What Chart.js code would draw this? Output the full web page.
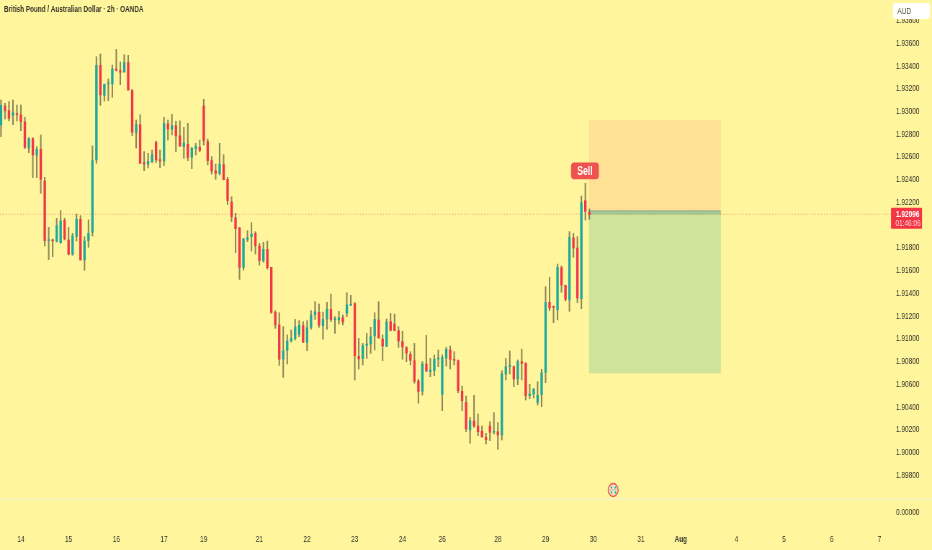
<!DOCTYPE html>
<html>
<head>
<meta charset="utf-8">
<title>GBPAUD 2h</title>
<script src="https://cdn.jsdelivr.net/npm/chart.js@4"></script>
<style>
  html, body { margin: 0; padding: 0; background: #fff59d; overflow: hidden; width: 932px; height: 550px; }
  /* o print original e espremido na horizontal, o texto tambem */
  canvas { display: block; transform: scaleX(0.72025); transform-origin: 0 0; }
</style>
</head>
<body>
<canvas id="grafico" width="1294" height="550"></canvas>
<script>
const opens = [
  1.92881,1.93048,1.93007,1.92966,1.92978,1.92969,1.92908,1.92679,1.92761,1.92615,
  1.92667,1.92389,1.91864,1.91870,1.91858,1.91846,1.92043,1.91870,1.91744,1.91902,
  1.92052,1.91694,1.91864,1.91937,1.92574,1.93406,1.93142,1.93242,1.93242,1.93374,
  1.93359,1.93348,1.93430,1.93183,1.92814,1.92884,1.92550,1.92535,1.92559,1.92729,
  1.92576,1.92565,1.92890,1.92843,1.92875,1.92785,1.92691,1.92711,1.92597,1.92673,
  1.92685,1.93048,1.92735,1.92568,1.92477,1.92453,1.92532,1.92403,1.92204,1.92066,
  1.91975,1.91629,1.91875,1.91899,1.91928,1.91816,1.91687,1.91787,1.91629,1.91233,
  1.91122,1.90823,1.90899,1.90981,1.91004,1.91040,1.91116,1.90969,1.91101,1.91215,
  1.91233,1.91116,1.91174,1.91259,1.91169,1.91166,1.91186,1.91224,1.91295,1.91309,
  1.90846,1.90828,1.90943,1.90954,1.91025,1.91166,1.90998,1.90934,1.91151,1.91130,
  1.91072,1.90975,1.90922,1.90864,1.90808,1.90629,1.90538,1.90779,1.90711,1.90720,
  1.90823,1.90512,1.90831,1.90902,1.90820,1.90808,1.90538,1.90441,1.90198,1.90277,
  1.90233,1.90186,1.90133,1.90233,1.90178,1.90183,1.90154,1.90691,1.90758,1.90755,
  1.90647,1.90799,1.90784,1.90500,1.90515,1.90441,1.90509,1.90705,1.91321,1.91283,
  1.91254,1.91626,1.91470,1.91342,1.91887,1.91799,1.91353,1.92215,1.92113
]
const closes = [
  1.93054,1.93004,1.92940,1.92990,1.92972,1.92911,1.92685,1.92761,1.92617,1.92667,
  1.92403,1.91864,1.91870,1.91861,1.91996,1.92037,1.91879,1.91744,1.91905,1.92052,
  1.91694,1.91861,1.91928,1.92568,1.93406,1.93145,1.93239,1.93248,1.93374,1.93362,
  1.93345,1.93430,1.93189,1.92817,1.92884,1.92544,1.92538,1.92562,1.92620,1.92573,
  1.92565,1.92896,1.92846,1.92875,1.92785,1.92697,1.92723,1.92597,1.92676,1.92694,
  1.92658,1.92744,1.92568,1.92477,1.92456,1.92538,1.92400,1.92216,1.92075,1.91969,
  1.91629,1.91878,1.91890,1.91922,1.91819,1.91690,1.91787,1.91626,1.91233,1.91122,
  1.90820,1.90893,1.90981,1.91004,1.91104,1.91119,1.90972,1.91098,1.91210,1.91239,
  1.91122,1.91171,1.91259,1.91169,1.91177,1.91186,1.91148,1.91298,1.91300,1.90852,
  1.90823,1.90940,1.90954,1.91019,1.91171,1.91010,1.90937,1.91148,1.91075,1.91075,
  1.90981,1.90928,1.90875,1.90811,1.90626,1.90538,1.90779,1.90717,1.90726,1.90820,
  1.90828,1.90837,1.90907,1.90820,1.90811,1.90544,1.90456,1.90207,1.90280,1.90233,
  1.90183,1.90139,1.90113,1.90178,1.90183,1.90154,1.90691,1.90755,1.90764,1.90647,
  1.90799,1.90784,1.90500,1.90515,1.90556,1.90503,1.90702,1.91321,1.91271,1.91277,
  1.91629,1.91473,1.91347,1.91893,1.91799,1.91359,1.92198,1.92121,1.92095
]
const highs = [
  1.93101,1.93072,1.93087,1.93101,1.93057,1.93057,1.92949,1.92770,1.92770,1.92691,
  1.92793,1.92421,1.91981,1.91879,1.92060,1.92128,1.92060,1.91981,1.91928,1.92098,
  1.92084,1.91899,1.92046,1.92697,1.93482,1.93506,1.93242,1.93286,1.93409,1.93547,
  1.93435,1.93500,1.93494,1.93195,1.92925,1.92972,1.92647,1.92632,1.92661,1.92741,
  1.92661,1.92949,1.92925,1.92975,1.92914,1.92917,1.92861,1.92896,1.92685,1.92720,
  1.92749,1.93107,1.92758,1.92603,1.92538,1.92720,1.92620,1.92421,1.92250,1.92104,
  1.91981,1.91884,1.91951,1.92022,1.91943,1.91840,1.91849,1.91860,1.91629,1.91248,
  1.91230,1.91107,1.91034,1.91078,1.91171,1.91160,1.91151,1.91160,1.91248,1.91327,
  1.91306,1.91236,1.91321,1.91394,1.91195,1.91242,1.91210,1.91406,1.91383,1.91318,
  1.91004,1.90960,1.91048,1.91101,1.91230,1.91327,1.91034,1.91174,1.91224,1.91218,
  1.91107,1.91066,1.90931,1.90887,1.90960,1.90644,1.90799,1.91031,1.90828,1.90858,
  1.90902,1.90858,1.90925,1.90937,1.90887,1.90814,1.90585,1.90497,1.90309,1.90503,
  1.90339,1.90233,1.90169,1.90271,1.90351,1.90263,1.90720,1.90828,1.90893,1.90761,
  1.90814,1.90910,1.90790,1.90600,1.90565,1.90623,1.90732,1.91459,1.91541,1.91289,
  1.91658,1.91641,1.91473,1.91943,1.91928,1.91899,1.92256,1.92368,1.92142
]
const lows = [
  1.92779,1.92934,1.92917,1.92884,1.92917,1.92831,1.92673,1.92638,1.92418,1.92418,
  1.92280,1.91817,1.91697,1.91723,1.91852,1.91841,1.91870,1.91738,1.91735,1.91861,
  1.91694,1.91603,1.91805,1.91905,1.92544,1.93054,1.93092,1.93095,1.93125,1.93356,
  1.93236,1.93345,1.93189,1.92788,1.92679,1.92544,1.92480,1.92503,1.92550,1.92550,
  1.92506,1.92524,1.92749,1.92793,1.92647,1.92691,1.92588,1.92568,1.92497,1.92617,
  1.92647,1.92705,1.92530,1.92450,1.92403,1.92442,1.92398,1.92181,1.92031,1.91758,
  1.91523,1.91605,1.91855,1.91773,1.91746,1.91649,1.91673,1.91614,1.91224,1.91092,
  1.90767,1.90661,1.90779,1.90972,1.90990,1.91019,1.90966,1.90896,1.91084,1.91171,
  1.91101,1.90996,1.91084,1.91151,1.91048,1.91130,1.91122,1.91195,1.91292,1.90638,
  1.90735,1.90770,1.90828,1.90872,1.90902,1.91004,1.90808,1.90931,1.91069,1.91069,
  1.90925,1.90820,1.90799,1.90770,1.90609,1.90433,1.90506,1.90711,1.90667,1.90676,
  1.90755,1.90368,1.90761,1.90735,1.90770,1.90526,1.90368,1.90183,1.90081,1.90221,
  1.90148,1.90133,1.90075,1.90104,1.90163,1.90028,1.90110,1.90638,1.90691,1.90579,
  1.90597,1.90638,1.90462,1.90474,1.90480,1.90418,1.90403,1.90614,1.91248,1.91142,
  1.91166,1.91409,1.91333,1.91242,1.91717,1.91318,1.91265,1.92045,1.92051
]

const dayTicks = [5,17,29,41,51,65,77,89,101,111,125,137,149,161,171,185,197,209,221]
const dayLabels = ['14','15','16','17','19','21','22','23','24','26','28','29','30','31','Aug','4','5','6','7']
const priceTicks = [1.938,1.936,1.934,1.932,1.93,1.928,1.926,1.924,1.922,1.92,1.918,1.916,1.914,1.912,1.91,1.908,1.906,1.904,1.902,1.9,1.898]

const lastPrice = 1.92096
const entryPrice = 1.92125
const stopPrice = 1.92921
const targetPrice = 1.907
const posStart = 148
const posEnd = 181

const verde = '#1ea89c'
const vermelho = '#f23645'
const corTexto = '#33332a'
const fonte = '"Liberation Sans", sans-serif'
const aperto = 932 / 1294 // mesmo valor do scaleX no css

const indices = opens.map((_, i) => i)
const posMeio = (posStart + posEnd) / 2
const posLargura = 131.5 / aperto

function pill(ctx, x, y, w, h, r, cor) {
    ctx.fillStyle = cor
    ctx.beginPath()
    ctx.roundRect(x / aperto, y, w / aperto, h, r)
    ctx.fill()
}

// textos e etiquetas que ficam por cima do grafico
const etiquetas = {
    id: 'etiquetas',
    afterDraw(chart) {
        const ctx = chart.ctx
        const sx = chart.scales.x
        const sy = chart.scales.y
        ctx.save()

        // separador dos paineis
        ctx.strokeStyle = '#f6f0c8'
        ctx.lineWidth = 1.5
        ctx.beginPath()
        ctx.moveTo(0, chart.scales.y2.top)
        ctx.lineTo(chart.width, chart.scales.y2.top)
        ctx.stroke()

        // Sell
        const cx = sx.getPixelForValue(146.9)
        const cy = sy.getPixelForValue(highs[147]) - 12.5
        pill(ctx, cx * aperto - 13.9, cy - 8.3, 27.8, 16.6, 4, '#ef5350')
        ctx.fillStyle = '#ffffff'
        ctx.font = 'bold 12px ' + fonte
        ctx.textAlign = 'center'
        ctx.textBaseline = 'middle'
        ctx.fillText('Sell', cx, cy + 0.5)

        // moeda
        pill(ctx, 893, 3, 37, 16, 3, '#ffffff')
        ctx.fillStyle = '#3f4a2c'
        ctx.font = '9px ' + fonte
        ctx.textAlign = 'left'
        ctx.fillText('AUD', 897.5 / aperto, 11.5)

        // preco atual
        const py = sy.getPixelForValue(lastPrice)
        pill(ctx, 891, py - 6.5, 31, 21, 1, vermelho)
        ctx.fillStyle = '#ffffff'
        ctx.font = 'bold 9px ' + fonte
        ctx.fillText('1.92096', 896 / aperto, py)
        ctx.fillStyle = '#ffd5d8'
        ctx.font = '9px ' + fonte
        ctx.fillText('01:46:06', 895.5 / aperto, py + 9.5)

        // icone de evento
        const ix = sx.getPixelForValue(154)
        const iy = 490
        ctx.fillStyle = '#f3e6c0'
        ctx.strokeStyle = '#ef5350'
        ctx.lineWidth = 1.4
        ctx.beginPath()
        ctx.ellipse(ix, iy, 5 / aperto, 6.5, 0, 0, Math.PI * 2)
        ctx.fill()
        ctx.stroke()
        ctx.fillStyle = verde
        for (const dx of [-2.5, 1.5]) {
            for (const dy of [-3.5, 1.5]) {
                ctx.fillRect(ix + dx / aperto, iy + dy, 1.5 / aperto, 2)
            }
        }
        ctx.fillStyle = '#b8b39a'
        ctx.fillRect(ix - 3.5 / aperto, iy - 0.5, 7 / aperto, 1)
        ctx.restore()
    }
}

document.addEventListener('DOMContentLoaded', () => {
    const canvas = document.getElementById('grafico')

    new Chart(canvas, {
        type: 'bar',
        data: {
            datasets: [
                {
                    label: 'Corpos',
                    order: 1,
                    grouped: false,
                    clip: false,
                    barThickness: 2.7,
                    minBarLength: 1,
                    data: indices.map(i => ({ x: i, y: [opens[i], closes[i]] })),
                    backgroundColor: indices.map(i => closes[i] >= opens[i] ? verde : vermelho),
                },
                {
                    label: 'Pavios',
                    order: 2,
                    grouped: false,
                    clip: false,
                    barThickness: 1.4,
                    data: indices.map(i => ({ x: i, y: [lows[i], highs[i]] })),
                    backgroundColor: 'rgba(95,92,58,0.72)',
                },
                {
                    label: 'Ultimo',
                    type: 'line',
                    order: 3,
                    clip: false,
                    data: [{ x: -1, y: lastPrice }, { x: 223.9, y: lastPrice }],
                    borderColor: 'rgba(242,84,69,0.5)',
                    borderWidth: 1,
                    borderDash: [1.5, 2.5],
                    pointRadius: 0,
                },
                {
                    label: 'Linha entrada',
                    type: 'line',
                    order: 4,
                    data: [{ x: posStart, y: entryPrice }, { x: posEnd, y: entryPrice }],
                    borderColor: 'rgba(120,123,134,0.5)',
                    borderWidth: 1,
                    pointRadius: 0,
                },
                {
                    label: 'Entrada',
                    order: 5,
                    grouped: false,
                    barThickness: posLargura,
                    data: [{ x: posMeio, y: [lastPrice, entryPrice] }],
                    backgroundColor: 'rgba(110,185,135,0.5)',
                },
                {
                    label: 'Stop',
                    order: 6,
                    grouped: false,
                    barThickness: posLargura,
                    data: [{ x: posMeio, y: [entryPrice, stopPrice] }],
                    backgroundColor: '#ffe196',
                },
                {
                    label: 'Alvo',
                    order: 7,
                    grouped: false,
                    barThickness: posLargura,
                    data: [{ x: posMeio, y: [targetPrice, entryPrice] }],
                    backgroundColor: '#cfe39b',
                },
            ]
        },
        options: {
            responsive: false,
            animation: false,
            layout: { padding: { left: 4 / aperto } },
            plugins: {
                legend: { display: false },
                tooltip: { enabled: false },
                title: {
                    display: true,
                    text: 'British Pound / Australian Dollar · 2h · OANDA',
                    align: 'start',
                    color: corTexto,
                    font: { family: fonte, size: 8.8, weight: 'bold' },
                    padding: { top: 4, bottom: 1.44 },
                },
            },
            scales: {
                x: {
                    type: 'linear',
                    offset: false,
                    min: 0.755,
                    max: 223.9,
                    grid: { display: false },
                    border: { display: false },
                    afterBuildTicks: (scale) => { scale.ticks = dayTicks.map(value => ({ value })) },
                    afterFit: (scale) => { scale.height = 24 },
                    ticks: {
                        autoSkip: false,
                        maxRotation: 0,
                        padding: 0,
                        color: corTexto,
                        font: (c) => ({ family: fonte, size: 9, weight: dayLabels[c.index] == 'Aug' ? 'bold' : 'normal' }),
                        callback: (value) => dayLabels[dayTicks.indexOf(value)],
                    },
                },
                y: {
                    type: 'linear',
                    position: 'right',
                    stack: 'precos',
                    stackWeight: 483,
                    min: 1.89591,
                    max: 1.93840,
                    grid: { display: false, drawTicks: false },
                    border: { display: false },
                    afterBuildTicks: (scale) => { scale.ticks = priceTicks.map(value => ({ value })) },
                    afterFit: (scale) => { scale.width = 41 / aperto },
                    ticks: {
                        autoSkip: false,
                        padding: 5 / aperto,
                        color: corTexto,
                        font: { family: fonte, size: 9 },
                        callback: (value) => value.toFixed(5),
                    },
                },
                y2: {
                    type: 'linear',
                    position: 'right',
                    stack: 'precos',
                    stackWeight: 27,
                    min: -13,
                    max: 14,
                    grid: { display: false, drawTicks: false },
                    border: { display: false },
                    afterBuildTicks: (scale) => { scale.ticks = [{ value: 0 }] },
                    afterFit: (scale) => { scale.width = 41 / aperto },
                    ticks: {
                        padding: 5 / aperto,
                        color: corTexto,
                        font: { family: fonte, size: 9 },
                        callback: (value) => value.toFixed(5),
                    },
                },
            },
        },
        plugins: [etiquetas],
    })
})
</script>
</body>
</html>
